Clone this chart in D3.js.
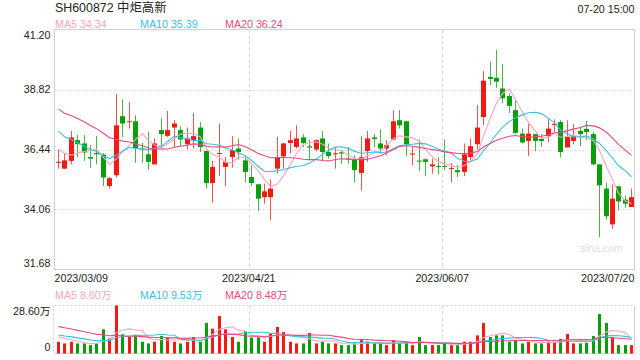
<!DOCTYPE html>
<html><head><meta charset="utf-8">
<script src="https://cdn.jsdelivr.net/npm/d3@7"></script>
<style>
html,body{margin:0;padding:0;background:#fff;}
svg{display:block;font-family:"Liberation Sans",Arial,"Noto Sans CJK SC",sans-serif;}
</style></head>
<body><svg id="c" width="640" height="360"></svg>
<script>
const dates = ["2023/03/09","2023/03/10","2023/03/13","2023/03/14","2023/03/15","2023/03/16","2023/03/17","2023/03/20","2023/03/21","2023/03/22","2023/03/23","2023/03/24","2023/03/27","2023/03/28","2023/03/29","2023/03/30","2023/03/31",
"2023/04/03","2023/04/04","2023/04/06","2023/04/07","2023/04/10","2023/04/11","2023/04/12","2023/04/13","2023/04/14","2023/04/17","2023/04/18","2023/04/19","2023/04/20","2023/04/21","2023/04/24","2023/04/25","2023/04/26","2023/04/27","2023/04/28",
"2023/05/04","2023/05/05","2023/05/08","2023/05/09","2023/05/10","2023/05/11","2023/05/12","2023/05/15","2023/05/16","2023/05/17","2023/05/18","2023/05/19","2023/05/22","2023/05/23","2023/05/24","2023/05/25","2023/05/26","2023/05/29","2023/05/30","2023/05/31",
"2023/06/01","2023/06/02","2023/06/05","2023/06/06","2023/06/07","2023/06/08","2023/06/09","2023/06/12","2023/06/13","2023/06/14","2023/06/15","2023/06/16","2023/06/19","2023/06/20","2023/06/21","2023/06/26","2023/06/27","2023/06/28","2023/06/29","2023/06/30",
"2023/07/03","2023/07/04","2023/07/05","2023/07/06","2023/07/07","2023/07/10","2023/07/11","2023/07/12","2023/07/13","2023/07/14","2023/07/17","2023/07/18","2023/07/19","2023/07/20"];
const open  = [35.92,35.68,35.99,36.81,36.68,36.14,36.30,36.24,34.99,35.42,37.76,37.53,37.56,36.48,36.25,35.85,37.21,36.98,37.31,37.21,36.65,36.81,37.31,36.38,35.11,36.27,35.75,36.14,36.48,36.01,35.35,35.06,34.55,34.55,35.68,36.17,36.70,36.54,36.92,36.57,36.44,36.88,36.34,36.27,36.33,36.08,36.04,35.51,36.38,36.92,36.68,36.48,36.84,37.60,37.56,36.26,36.00,36.05,35.77,35.78,35.79,35.69,35.62,35.55,36.14,36.65,37.73,39.32,39.28,38.86,38.56,38.00,37.07,36.78,37.05,36.86,36.97,37.43,37.53,36.52,36.78,37.18,37.26,37.05,35.85,34.89,33.47,34.98,34.45,34.16];
const high  = [36.44,36.28,37.18,37.01,37.01,36.61,36.97,36.30,35.35,38.64,38.43,38.33,37.80,36.70,37.14,36.88,37.67,37.97,37.60,37.36,37.31,37.88,37.53,36.40,35.99,37.47,36.14,36.97,36.88,36.21,35.81,35.08,35.09,35.25,36.94,36.70,37.18,37.40,37.05,36.81,36.84,37.18,36.68,36.52,36.41,36.54,36.21,36.97,37.18,37.05,37.23,36.81,38.00,38.00,37.58,36.54,36.84,36.08,36.08,36.14,36.84,35.91,35.81,36.68,36.88,38.20,39.55,39.92,40.39,39.83,38.66,38.40,37.27,37.45,37.06,37.05,37.64,37.63,37.60,37.60,37.45,37.34,37.58,37.14,35.86,35.11,35.06,34.99,34.62,34.89];
const low   = [35.68,35.66,35.85,36.14,35.99,35.71,35.85,34.99,34.89,35.33,36.94,37.27,35.91,35.91,35.64,35.85,36.57,36.94,36.54,36.54,36.44,36.48,36.34,34.89,34.32,35.38,34.98,35.72,36.04,35.15,34.98,34.00,34.29,33.63,35.48,35.68,36.28,36.48,36.54,36.01,36.38,35.99,36.08,35.68,35.88,35.88,35.15,34.82,35.95,36.54,36.28,36.21,36.81,37.27,36.17,35.81,35.59,35.38,35.48,35.45,35.62,35.15,35.35,35.38,36.01,36.44,37.40,38.99,38.89,38.27,37.89,37.05,36.68,36.17,36.38,36.54,36.74,37.14,36.12,36.52,36.65,36.57,36.81,35.81,32.96,33.66,33.30,34.03,34.13,34.16];
const close = [35.95,36.01,36.92,36.65,36.32,36.08,36.25,35.33,35.30,37.40,37.47,37.56,36.48,36.44,35.95,36.68,37.05,37.21,37.47,36.84,36.88,36.97,36.54,35.11,35.75,36.30,35.95,36.41,36.34,35.55,35.11,34.49,34.78,34.89,36.14,36.68,36.81,36.88,36.70,36.52,36.81,36.34,36.18,36.29,36.28,36.04,35.62,36.14,36.88,36.86,36.48,36.61,37.56,37.40,36.65,36.28,35.97,35.95,35.85,35.77,35.77,35.71,35.54,36.25,36.57,37.31,39.17,39.24,39.13,38.47,38.17,37.10,36.72,37.07,36.78,36.78,37.27,37.45,36.34,36.94,36.97,37.05,37.13,35.85,35.02,33.79,34.49,34.38,34.29,34.55];
// closes of the 19 sessions before the first shown day (only used for the moving averages)
const preCloses = [39.2,39.0,38.8,39.1,38.9,38.7,39.0,38.8,38.9,38.7,38.3,38.0,37.9,37.7,37.55,36.8,37.3,36.2,36.0];
// volume in 万 shares
const volume = [7,6,7,6,6,5,6,14.4,9,28.6,11.4,9.8,11.2,7,6,7,10.5,9.8,7,6,7,9.8,7,18.2,14.8,22.3,14.4,9.8,7,13.4,9.5,9.8,7,11.8,15.8,12.8,7,6,6,12.2,6,7,6,6,5,5,6,8,7,6,6,5,8,6,7,5,9.8,5,5,5,6,5,5,7,7,10.8,18.2,9.8,10.8,10.8,7,8,6,7,6,6,7,7,8.7,11.6,6,6,6.4,10.4,23.5,18.2,9.8,5,5,5];
const preVolume = [20,22,21,23,20,22,19,21,22,20,12,12,12,12,12,11,11,10,11];
const priceTicks = [41.20,38.82,36.44,34.06,31.68];
const dateTicks = ["2023/03/09","2023/04/21","2023/06/07","2023/07/20"];
const volTicks = [28.60,0];
const title = "SH600872 中炬高新";
const timeLabel = "07-20 15:00";
const maLegend = [["MA5","34.34"],["MA10","35.39"],["MA20","36.24"]];
const volLegend = [["MA5","8.60万"],["MA10","9.53万"],["MA20","8.48万"]];

const RED="#f31a12", GREEN="#0a9e0a";
const maColors = {MA5:"#f8a5c2",MA10:"#35c2e0",MA20:"#ec4a80"};
const svg = d3.select("#c");
const L=54.5, R=634.5, T=29.5, B=269.5, VT=305.5, VB=353.5;

const x = d3.scaleBand().domain(dates).range([L,R]);
const bw = x.bandwidth();
const cx = d => Math.round(x(d)+bw/2)+0.5;
const y = d3.scaleLinear().domain([31.68,41.20]).range([B,T]);
const vy = d3.scaleLinear().domain([0,28.60]).range([VB,VT]);

const data = dates.map((d,i)=>({d,o:open[i],h:high[i],l:low[i],c:close[i],v:volume[i]}));
function ma(arr, pre, n){
  const all = pre.concat(arr);
  return arr.map((_,i)=>{const k=i+pre.length; return d3.mean(all.slice(k-n+1,k+1));});
}

// ---- frame & grid (price)
const g = svg.append("g");
g.selectAll(".hg").data(priceTicks.slice(1,-1)).join("line")
  .attr("x1",L).attr("x2",R).attr("y1",d=>Math.round(y(d))+0.5).attr("y2",d=>Math.round(y(d))+0.5)
  .attr("stroke","#d6d6d6").attr("stroke-dasharray","2,2");
g.selectAll(".vg").data(dateTicks.slice(1,-1)).join("line")
  .attr("x1",d=>Math.round(x(d)+1)+0.5).attr("x2",d=>Math.round(x(d)+1)+0.5).attr("y1",T).attr("y2",B)
  .attr("stroke","#d6d6d6").attr("stroke-dasharray","3,3");
g.append("rect").attr("x",L).attr("y",T).attr("width",R-L).attr("height",B-T)
  .attr("fill","none").attr("stroke","#d0d0d0");

// volume frame
g.append("line").attr("x1",L).attr("x2",R).attr("y1",VT).attr("y2",VT).attr("stroke","#d0d0d0").attr("stroke-dasharray","2,2");
g.append("line").attr("x1",L-1).attr("x2",L-1).attr("y1",VT).attr("y2",VB).attr("stroke","#d0d0d0").attr("stroke-dasharray","2,2");
g.append("line").attr("x1",R).attr("x2",R).attr("y1",VT).attr("y2",VB).attr("stroke","#d0d0d0");
g.append("line").attr("x1",L).attr("x2",R).attr("y1",VB).attr("y2",VB).attr("stroke","#d0d0d0");
g.selectAll(".vvg").data(dateTicks.slice(1,-1)).join("line")
  .attr("x1",d=>Math.round(x(d)+1)+0.5).attr("x2",d=>Math.round(x(d)+1)+0.5).attr("y1",VT).attr("y2",VB)
  .attr("stroke","#d6d6d6").attr("stroke-dasharray","3,3");

// watermark
svg.append("text").attr("x",R-12).attr("y",252).attr("text-anchor","end").attr("fill","#dcdcdc")
  .attr("font-size","10.5px").text("sina.com");

// ---- candles
const cg = svg.append("g");
const col = d => d.c>=d.o ? RED : GREEN;
cg.selectAll(".wick").data(data).join("line")
  .attr("x1",d=>cx(d.d)).attr("x2",d=>cx(d.d)).attr("y1",d=>y(d.h)).attr("y2",d=>y(d.l))
  .attr("stroke",d=>col(d)).attr("stroke-width",1).attr("stroke-opacity",0.75);
cg.selectAll(".body").data(data).join("rect")
  .attr("x",d=>cx(d.d)-2.5).attr("width",5)
  .attr("y",d=>y(Math.max(d.o,d.c)))
  .attr("height",d=>Math.max(1,Math.abs(y(d.o)-y(d.c))))
  .attr("fill",d=>col(d));

// MA lines price
const line = d3.line().x((v,i)=>cx(dates[i])).y(v=>y(v));
[["MA5",5],["MA10",10],["MA20",20]].forEach(([k,n])=>{
  svg.append("path").attr("d",line(ma(close,preCloses,n))).attr("fill","none")
    .attr("stroke",maColors[k]).attr("stroke-width",1.1);
});

// ---- volume bars
svg.selectAll(".vb").data(data).join("rect")
  .attr("x",d=>cx(d.d)-1.5).attr("width",3)
  .attr("y",d=>vy(d.v)).attr("height",d=>VB-vy(d.v))
  .attr("fill",d=>col(d));
const vline = d3.line().x((v,i)=>cx(dates[i])).y(v=>vy(v));
[["MA5",5],["MA10",10],["MA20",20]].forEach(([k,n])=>{
  svg.append("path").attr("d",vline(ma(volume,preVolume,n))).attr("fill","none")
    .attr("stroke",maColors[k]).attr("stroke-width",1.1);
});

// ---- texts
const FS="10.7px";
svg.append("text").attr("x",55).attr("y",12).attr("font-size","12.4px").attr("fill","#222").text(title);
svg.append("text").attr("x",R).attr("y",12.5).attr("text-anchor","end").attr("font-size",FS).attr("fill","#222").text(timeLabel);
const lx=[55,140,225];
maLegend.forEach((m,i)=>svg.append("text").attr("x",lx[i]).attr("y",27.5).attr("font-size",FS).attr("fill",maColors[m[0]]).text(m[0]+" "+m[1]));
volLegend.forEach((m,i)=>svg.append("text").attr("x",lx[i]).attr("y",298.5).attr("font-size",FS).attr("fill",maColors[m[0]]).text(m[0]+" "+m[1]));
priceTicks.forEach((t,i)=>{
  let yy=y(t)+3.8; if(i===0) yy=y(t)+9; if(i===priceTicks.length-1) yy=y(t)-2.5;
  svg.append("text").attr("x",50.5).attr("y",yy).attr("text-anchor","end").attr("font-size",FS).attr("fill","#222").text(t.toFixed(2));
});
volTicks.forEach((t,i)=>{
  const yy = i===0 ? vy(t)+9 : vy(t)-2.5;
  svg.append("text").attr("x",50.5).attr("y",yy).attr("text-anchor","end").attr("font-size",FS).attr("fill","#222").text(t===0?"0":t.toFixed(2)+"万");
});
dateTicks.forEach((t,i)=>{
  const anchor = i===0?"start":(i===dateTicks.length-1?"end":"middle");
  const xx = i===0?L:(i===dateTicks.length-1?R:x(t)+1);
  svg.append("text").attr("x",xx).attr("y",281.5).attr("text-anchor",anchor).attr("font-size",FS).attr("fill","#222").text(t);
});
</script></body></html>
